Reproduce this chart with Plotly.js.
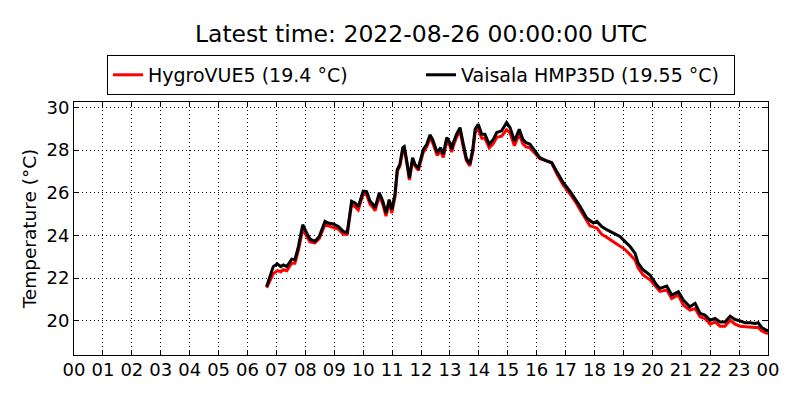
<!DOCTYPE html>
<html>
<head>
<meta charset="utf-8">
<script src="https://cdn.plot.ly/plotly-3.0.1.min.js"></script>
<style>
  body { margin: 0; background: #fff; }
  #plot { width: 800px; height: 400px; }
</style>
</head>
<body>
<div id="plot"></div>
<script>
// hour of day (UTC) for each reading
var hours = [6.66, 6.89, 7.03, 7.15, 7.24, 7.36, 7.53, 7.64, 7.76, 7.91,
  8.05, 8.16, 8.33, 8.48, 8.68, 8.79, 8.97, 9.14, 9.31, 9.45,
  9.60, 9.72, 9.83, 10.00, 10.12, 10.24, 10.35, 10.41, 10.56, 10.68,
  10.79, 10.90, 10.99, 11.10, 11.18, 11.27, 11.37, 11.42, 11.50, 11.60,
  11.71, 11.79, 11.91, 12.08, 12.20, 12.31, 12.40, 12.56, 12.68, 12.77,
  12.89, 13.00, 13.06, 13.12, 13.23, 13.35, 13.46, 13.57, 13.69, 13.79,
  13.87, 13.98, 14.10, 14.21, 14.36, 14.50, 14.62, 14.79, 14.96, 15.08,
  15.23, 15.40, 15.52, 15.63, 15.77, 15.94, 16.11, 16.35, 16.52, 16.69,
  16.92, 17.15, 17.33, 17.50, 17.73, 17.84, 17.96, 18.08, 18.25, 18.42,
  18.65, 18.88, 19.05, 19.23, 19.40, 19.51, 19.68, 19.92, 20.15, 20.26,
  20.50, 20.67, 20.90, 21.07, 21.30, 21.48, 21.65, 21.82, 22.00, 22.17,
  22.34, 22.51, 22.69, 22.86, 23.03, 23.20, 23.38, 23.55, 23.66, 23.78,
  23.95, 24.00];

var hygroVUE5 = [21.55, 22.20, 22.35, 22.30, 22.40, 22.35, 22.70, 22.70, 23.30, 24.30,
  23.95, 23.70, 23.65, 23.85, 24.50, 24.45, 24.40, 24.30, 24.05, 24.05,
  25.45, 25.35, 25.20, 25.95, 25.90, 25.45, 25.30, 25.15, 25.85, 25.45,
  24.90, 25.55, 25.05, 25.80, 27.00, 27.25, 28.00, 28.05, 27.45, 26.60,
  27.55, 27.25, 27.05, 27.90, 28.15, 28.55, 28.35, 27.75, 27.95, 27.65,
  28.40, 28.20, 27.90, 28.20, 28.60, 28.90, 28.15, 27.50, 27.25, 27.90,
  28.80, 29.00, 28.55, 28.55, 28.10, 28.30, 28.60, 28.65, 28.95, 28.80,
  28.20, 28.75, 28.30, 28.15, 28.10, 27.85, 27.60, 27.50, 27.40, 26.90,
  26.35, 25.95, 25.60, 25.20, 24.65, 24.45, 24.40, 24.35, 24.05, 23.92,
  23.70, 23.50, 23.35, 23.10, 22.85, 22.47, 22.15, 21.92, 21.52, 21.38,
  21.44, 21.05, 21.21, 20.74, 20.50, 20.58, 20.19, 20.11, 19.84, 19.95,
  19.75, 19.75, 20.03, 19.84, 19.75, 19.72, 19.72, 19.69, 19.69, 19.53,
  19.42, 19.40];

var vaisalaHMP35D = [21.60, 22.54, 22.67, 22.54, 22.62, 22.54, 22.89, 22.86, 23.48, 24.50,
  24.11, 23.83, 23.72, 23.95, 24.66, 24.58, 24.54, 24.42, 24.19, 24.14,
  25.60, 25.52, 25.35, 26.07, 26.05, 25.60, 25.44, 25.29, 26.00, 25.60,
  25.05, 25.68, 25.21, 25.92, 27.09, 27.33, 28.11, 28.16, 27.56, 26.70,
  27.64, 27.33, 27.17, 28.03, 28.27, 28.71, 28.50, 27.88, 28.11, 27.80,
  28.58, 28.35, 28.03, 28.35, 28.74, 29.05, 28.30, 27.60, 27.35, 28.03,
  28.97, 29.21, 28.74, 28.74, 28.27, 28.50, 28.82, 28.90, 29.29, 29.05,
  28.42, 28.97, 28.50, 28.35, 28.27, 27.95, 27.64, 27.48, 27.41, 27.01,
  26.47, 26.07, 25.73, 25.36, 24.82, 24.71, 24.58, 24.66, 24.42, 24.27,
  24.11, 23.95, 23.72, 23.48, 23.17, 22.70, 22.39, 22.15, 21.68, 21.52,
  21.63, 21.21, 21.36, 20.97, 20.66, 20.82, 20.35, 20.27, 20.03, 20.11,
  19.95, 19.95, 20.22, 20.06, 20.00, 19.91, 19.91, 19.88, 19.91, 19.69,
  19.56, 19.55];

var hourTicks = [0, 1, 2, 3, 4, 5, 6, 7, 8, 9, 10, 11, 12, 13, 14, 15, 16, 17, 18, 19, 20, 21, 22, 23, 24];
var hourLabels = ["00", "01", "02", "03", "04", "05", "06", "07", "08", "09", "10", "11",
  "12", "13", "14", "15", "16", "17", "18", "19", "20", "21", "22", "23", "00"];
var tempTicks = [20, 22, 24, 26, 28, 30];

var font = "DejaVu Sans, sans-serif";

var data = [
  {
    x: hours, y: hygroVUE5, type: 'scatter', mode: 'lines',
    name: 'HygroVUE5 (19.4 °C)',
    line: { color: '#ff0000', width: 3 }
  },
  {
    x: hours, y: vaisalaHMP35D, type: 'scatter', mode: 'lines',
    name: 'Vaisala HMP35D (19.55 °C)',
    line: { color: '#000000', width: 3 }
  }
];

// matplotlib "classic" look: inside ticks on all sides, dotted black grid
var axisStyle = {
  showline: true, linecolor: '#000', linewidth: 1, mirror: 'ticks',
  ticks: 'inside', ticklen: 5, tickcolor: '#000',
  showgrid: true, gridcolor: '#000', gridwidth: 1, griddash: '1px,3px',
  zeroline: false,
  tickfont: { family: font, size: 18, color: '#000' }
};

var layout = {
  width: 800, height: 400,
  margin: { l: 74, r: 32, t: 102, b: 45 },
  paper_bgcolor: '#fff', plot_bgcolor: '#fff',
  font: { family: font, color: '#000' },
  title: {
    text: 'Latest time: 2022-08-26 00:00:00 UTC',
    font: { family: font, size: 23.5, color: '#000' },
    x: 0.5, xref: 'paper', y: 0.915, yref: 'container', yanchor: 'middle'
  },
  xaxis: Object.assign({}, axisStyle, {
    range: [0, 24],
    tickmode: 'array', tickvals: hourTicks, ticktext: hourLabels,
    ticklabelstandoff: -2
  }),
  yaxis: Object.assign({}, axisStyle, {
    range: [18.4, 30.25],
    tickmode: 'array', tickvals: tempTicks,
    title: { text: 'Temperature (°C)', font: { family: font, size: 18.5, color: '#000' }, standoff: 5 }
  }),
  showlegend: true,
  legend: {
    orientation: 'h', x: 0.5, xanchor: 'center', y: 1.186, yanchor: 'top',
    bordercolor: '#000', borderwidth: 1, bgcolor: '#fff',
    font: { family: font, size: 19, color: '#000' },
    entrywidth: 268, traceorder: 'normal'
  },
  hovermode: false
};

Plotly.newPlot('plot', data, layout, { displayModeBar: false, staticPlot: true });
</script>
</body>
</html>
